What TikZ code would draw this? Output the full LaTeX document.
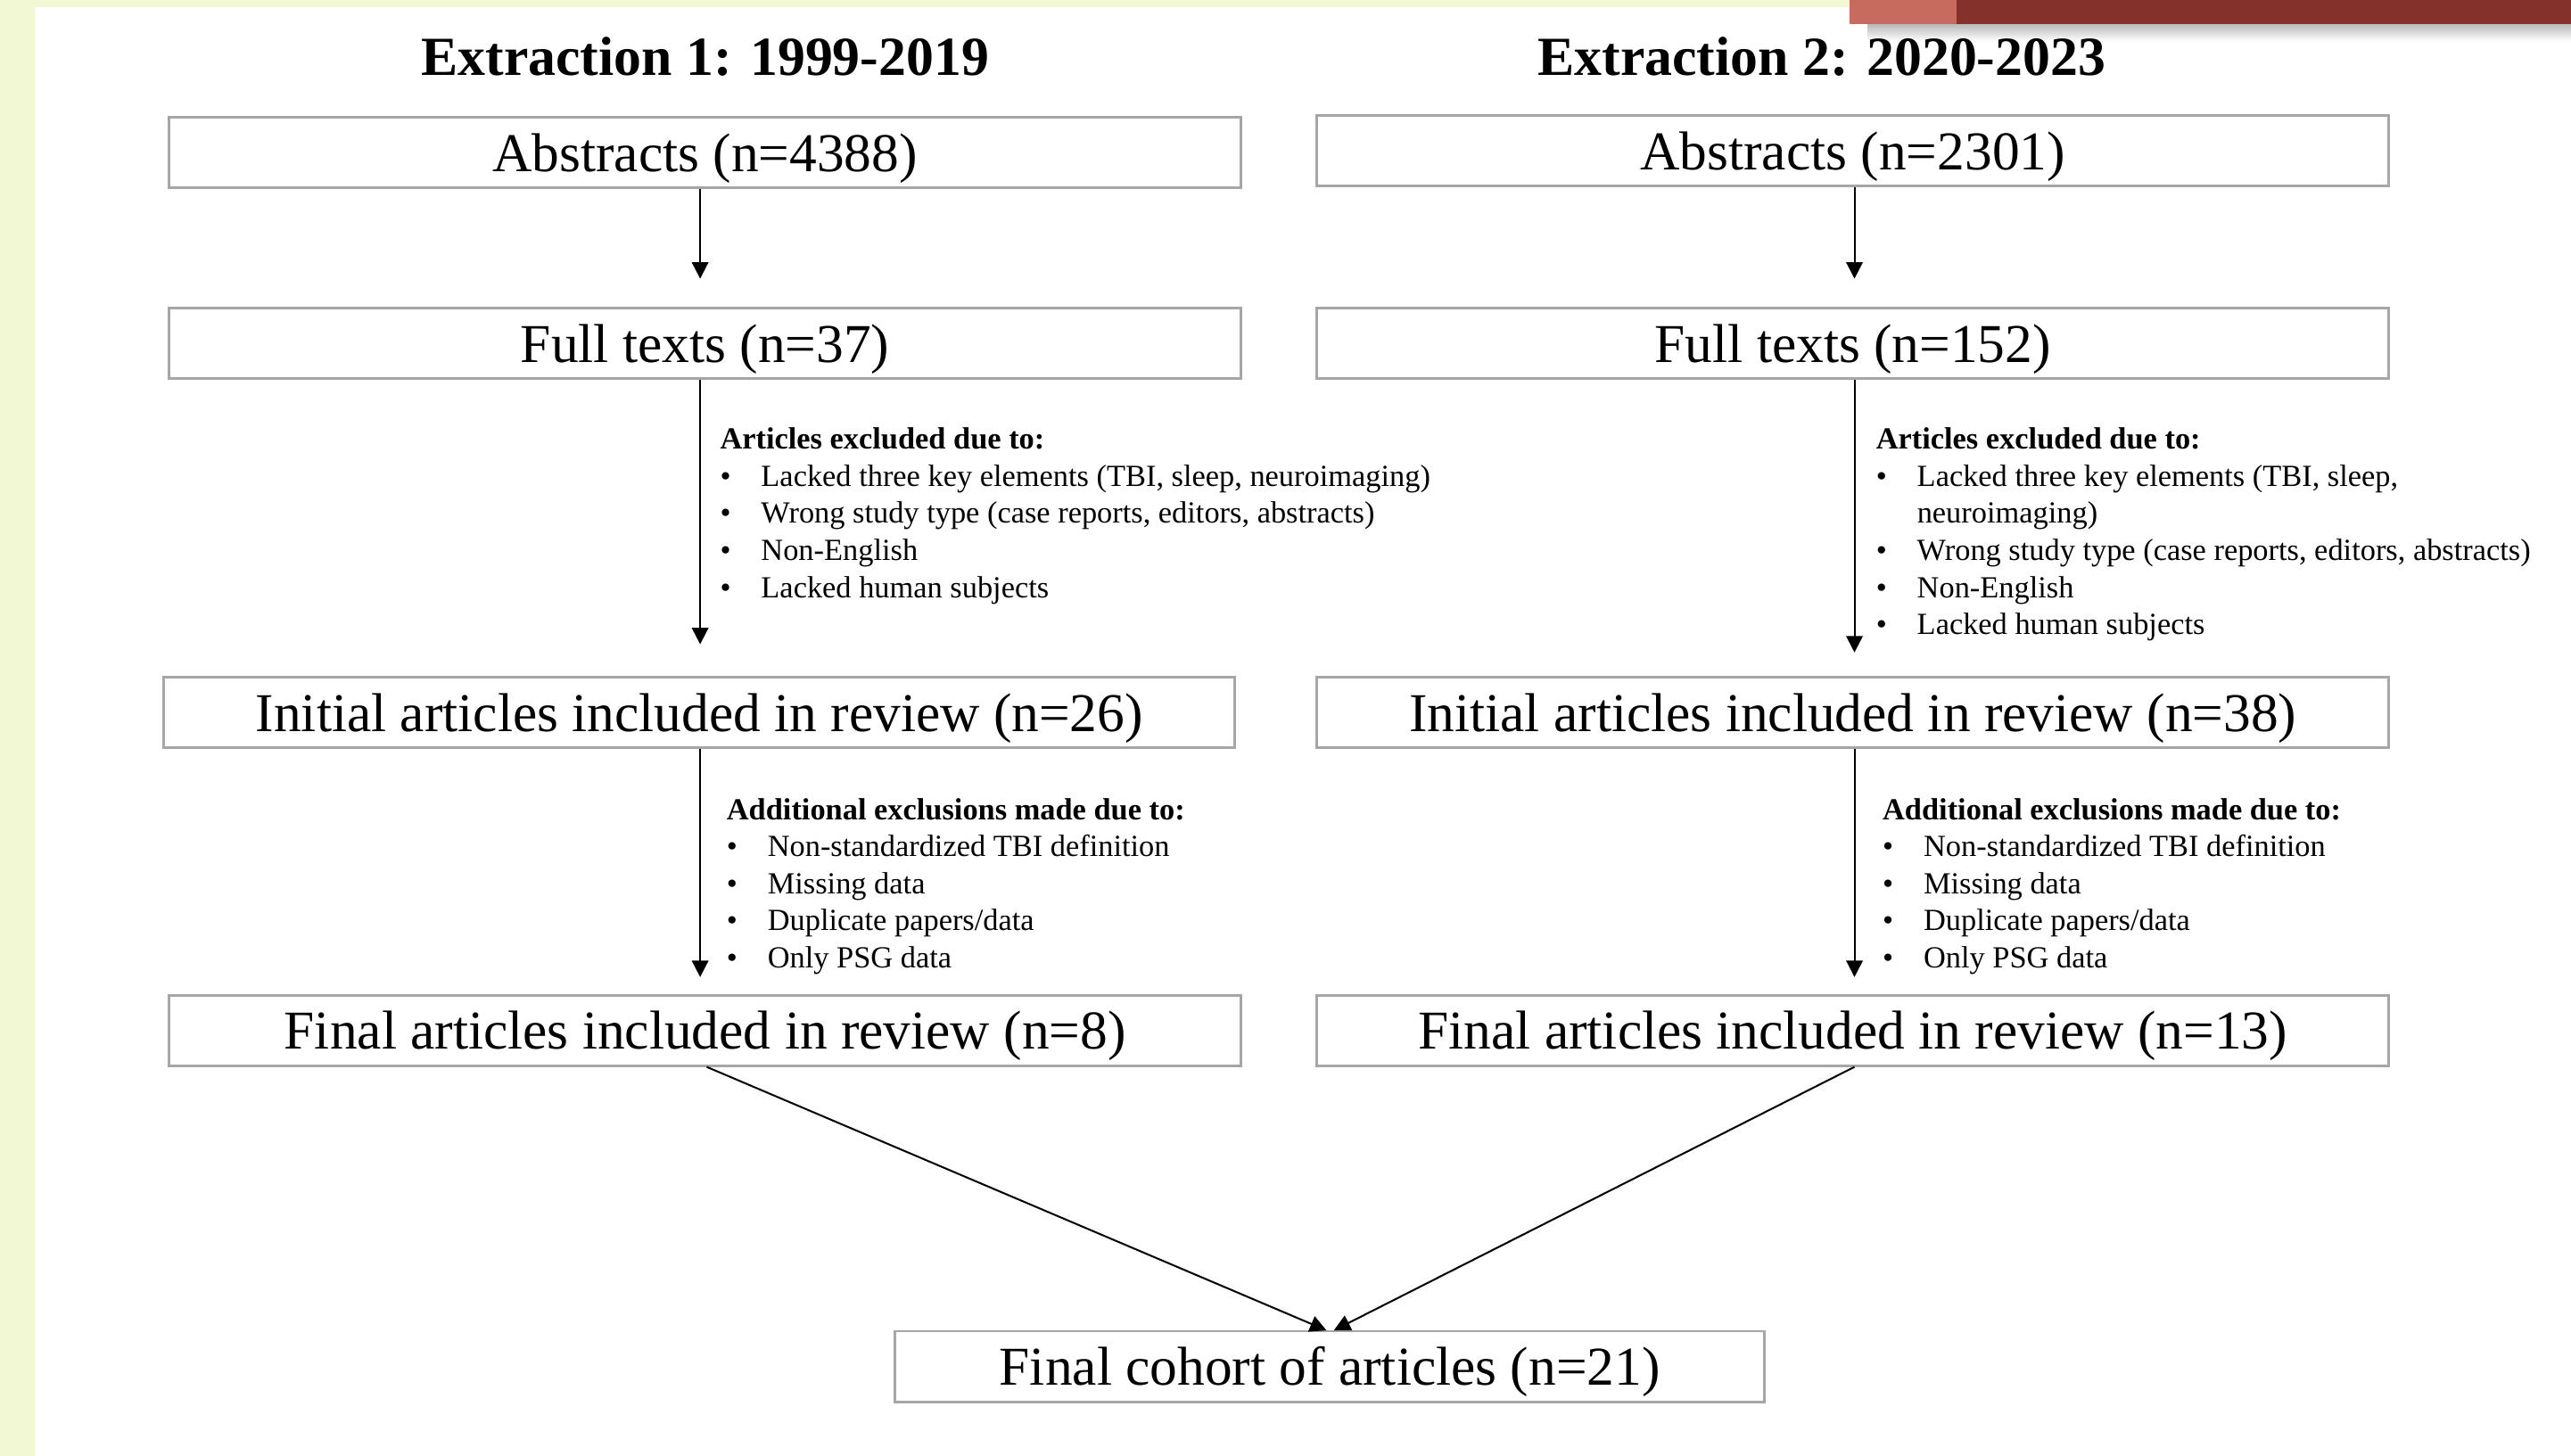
\documentclass[tikz,border=0pt]{standalone}
\usepackage{fontspec}
\setmainfont{Liberation Serif}
\usetikzlibrary{arrows.meta,calc}
\definecolor{strip}{RGB}{242,248,212}
\definecolor{redlight}{RGB}{199,107,94}
\definecolor{reddark}{RGB}{133,49,43}
\definecolor{boxgray}{RGB}{166,166,166}
\tikzset{
  stagebox/.style={draw=boxgray, line width=1.6pt, fill=white, minimum width=654pt, minimum height=43pt,
    inner sep=0pt, text height=23pt, text depth=0pt, font=\fontsize{33.4}{40}\selectfont},
  heading/.style={inner sep=0pt, anchor=base, font=\fontsize{33.6}{40}\selectfont\bfseries},
  notes/.style={inner sep=0pt, anchor=base west, font=\fontsize{18.7}{22.6}\selectfont},
  arr/.style={line width=1.1pt, -{Triangle[length=10pt,width=10pt]}},
}
\newcommand{\bul}{\makebox[25pt][l]{\textbullet}}
\newcommand{\cont}{\makebox[25pt][l]{}}
\begin{document}
\begin{tikzpicture}[x=1pt,y=-1pt]
\useasboundingbox (0,0) rectangle (1568,888);
\fill[white] (0,0) rectangle (1568,888);
% decoration
\fill[strip] (0,0) rectangle (21,888);
\fill[strip] (0,0) rectangle (1128,4.5);
\shade[top color=black!28, bottom color=white] (1139,14.5) rectangle (1568,25);
\fill[redlight] (1128,0) rectangle (1193,14.5);
\fill[reddark] (1193,0) rectangle (1568,14.5);
% headings
\node[heading] (h1) at (430,46) {Extraction 1: 1999-2019};
\node[heading] (h2) at (1111,46) {Extraction 2: 2020-2023};
% left column
\node[stagebox] (L1) at (430,93) {Abstracts (n=4388)};
\node[stagebox] (L2) at (430,209.5) {Full texts (n=37)};
\node[stagebox, minimum width=653pt] (L3) at (426.5,434.5) {Initial articles included in review (n=26)};
\node[stagebox] (L4) at (430,628.5) {Final articles included in review (n=8)};
% right column
\node[stagebox] (R1) at (1130,92) {Abstracts (n=2301)};
\node[stagebox] (R2) at (1130,209.5) {Full texts (n=152)};
\node[stagebox] (R3) at (1130,434.5) {Initial articles included in review (n=38)};
\node[stagebox] (R4) at (1130,628.5) {Final articles included in review (n=13)};
% bottom
\node[stagebox, minimum width=530pt] (B) at (811,833.5) {Final cohort of articles (n=21)};
% notes
\node[notes] (nL1) at (439,274) {\begin{tabular}[t]{@{}l@{}}
\textbf{Articles excluded due to:}\\
\bul Lacked three key elements (TBI, sleep, neuroimaging)\\
\bul Wrong study type (case reports, editors, abstracts)\\
\bul Non-English\\
\bul Lacked human subjects
\end{tabular}};
\node[notes] (nR1) at (1144,274) {\begin{tabular}[t]{@{}l@{}}
\textbf{Articles excluded due to:}\\
\bul Lacked three key elements (TBI, sleep,\\
\cont neuroimaging)\\
\bul Wrong study type (case reports, editors, abstracts)\\
\bul Non-English\\
\bul Lacked human subjects
\end{tabular}};
\node[notes] (nL2) at (443,500) {\begin{tabular}[t]{@{}l@{}}
\textbf{Additional exclusions made due to:}\\
\bul Non-standardized TBI definition\\
\bul Missing data\\
\bul Duplicate papers/data\\
\bul Only PSG data
\end{tabular}};
\node[notes] (nR2) at (1148,500) {\begin{tabular}[t]{@{}l@{}}
\textbf{Additional exclusions made due to:}\\
\bul Non-standardized TBI definition\\
\bul Missing data\\
\bul Duplicate papers/data\\
\bul Only PSG data
\end{tabular}};
% arrow ends
\coordinate (aL1) at (427,170);
\coordinate (aL2) at (427,393);
\coordinate (aL3) at (427,596);
\coordinate (aR1) at (1131,170);
\coordinate (aR2) at (1131,398);
\coordinate (aR3) at (1131,596);
\coordinate (mL) at (809,811.5);
\coordinate (mR) at (813.5,811.5);
\draw[arr] (L1.south -| aL1) -- (aL1);
\draw[arr] (L2.south -| aL2) -- (aL2);
\draw[arr] (L3.south -| aL3) -- (aL3);
\draw[arr] (R1.south -| aR1) -- (aR1);
\draw[arr] (R2.south -| aR2) -- (aR2);
\draw[arr] (R3.south -| aR3) -- (aR3);
\draw[arr] ($(L4.south)+(1,0)$) -- (mL);
\draw[arr] ($(R4.south)+(1,0)$) -- (mR);
\end{tikzpicture}
\end{document}
